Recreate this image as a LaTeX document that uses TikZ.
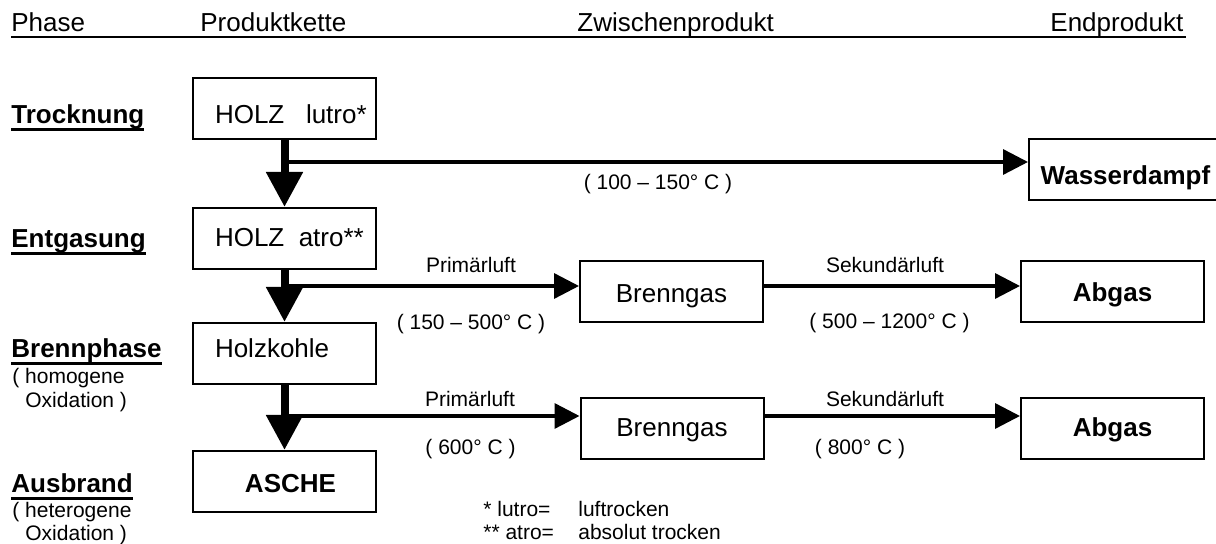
\documentclass[tikz,border=0pt]{standalone}
\usepackage{fontspec}
\setmainfont{Liberation Sans}
\usetikzlibrary{arrows.meta}

\newsavebox\phasebox
\newcommand{\phasename}[1]{\sbox\phasebox{\bfseries #1}\rlap{\rule[-3.3pt]{\wd\phasebox}{1.1pt}}\usebox\phasebox}

\begin{document}
\begin{tikzpicture}[x=0.5pt,y=-0.5pt,
  bigtext/.style={font=\fontsize{13}{15}\selectfont},
  smalltext/.style={font=\fontsize{10.5}{11.5}\selectfont},
  txt/.style={inner sep=0pt,anchor=base west},
  lbl/.style={inner sep=0pt,anchor=base,smalltext},
  stage/.style={draw,line width=1pt,minimum width=91.5pt,minimum height=30.5pt,inner sep=0pt,text height=9.5pt,text depth=1pt,bigtext},
  chain/.style={line width=4pt,-{Triangle[length=17.5pt,width=17.5pt]}},
  flow/.style={line width=1.7pt,-{Triangle[length=12.5pt,width=12.5pt]}}]

\useasboundingbox[fill=white] (0,0) rectangle (1216,544);

% Kopfzeile
\node[txt,bigtext] (hPhase) at (11,32) {Phase};
\node[txt,bigtext] (hKette) at (200,32) {Produktkette};
\node[txt,bigtext] (hZwischen) at (577,32) {Zwischenprodukt};
\node[txt,bigtext] (hEnd) at (1050,32) {Endprodukt};
\draw[line width=1pt] (11,36.7) -- (1186,36.7);

% Phasen
\node[txt,bigtext] (pTrock) at (11,124) {\phasename{Trocknung}};
\node[txt,bigtext] (pEntgas) at (11,248) {\phasename{Entgasung}};
\node[txt,bigtext] (pBrenn) at (11,358) {\phasename{Brennphase}};
\node[txt,smalltext] (pBrennA) at (12,384) {( homogene};
\node[txt,smalltext] (pBrennB) at (25,408) {Oxidation )};
\node[txt,bigtext] (pAus) at (11,493) {\phasename{Ausbrand}};
\node[txt,smalltext] (pAusA) at (12,518) {( heterogene};
\node[txt,smalltext] (pAusB) at (25,541) {Oxidation )};

% Produktkette
\node[stage] (lutro) at (284.5,109) {\raisebox{-3pt}{\makebox[69.5pt][l]{HOLZ\ \ \ lutro*}}};
\node[stage] (atro) at (284.5,238.5) {\makebox[69.5pt][l]{HOLZ\ \ atro**}};
\node[stage] (kohle) at (284.5,353.5) {\raisebox{2pt}{\makebox[69.5pt][l]{Holzkohle}}};
\node[stage] (asche) at (284.5,481.5) {\raisebox{-1.5pt}{\hspace*{6pt}\textbf{ASCHE}}};

\draw[chain] (lutro.south) -- (atro.north);
\draw[chain] (atro.south) -- (kohle.north);
\draw[chain] (kohle.south) -- (asche.north);

% Zwischen- und Endprodukte
\node[stage,minimum width=96.5pt] (dampf) at (1125.5,169.5) {\raisebox{-3.5pt}{\textbf{Wasserdampf}}};
\node[stage] (gasA) at (671.5,291.5) {\raisebox{-1.5pt}{Brenngas}};
\node[stage] (abgasA) at (1112.5,291.5) {\raisebox{-1pt}{\textbf{Abgas}}};
\node[stage] (gasB) at (672,428.5) {Brenngas};
\node[stage] (abgasB) at (1112.5,428.5) {\textbf{Abgas}};

% Trocknung
\coordinate (splitA) at (284.5,162);
\draw[flow] (splitA) -- (splitA -| dampf.west);
\node[lbl] (tA) at (658,190) {( 100 – 150° C )};

% Entgasung
\coordinate (splitB) at (284.5,286);
\draw[flow] (splitB) -- (splitB -| gasA.west);
\draw[flow] (splitB -| gasA.east) -- (splitB -| abgasA.west);
\node[lbl] (luftA) at (471,273) {Primärluft};
\node[lbl] (tB) at (471,330) {( 150 – 500° C )};
\node[lbl] (sekA) at (885,273) {Sekundärluft};
\node[lbl] (tC) at (889.5,329) {( 500 – 1200° C )};

% Brennphase
\coordinate (splitC) at (284.5,416);
\draw[flow] (splitC) -- (splitC -| gasB.west);
\draw[flow] (splitC -| gasB.east) -- (splitC -| abgasB.west);
\node[lbl] (luftB) at (470,407) {Primärluft};
\node[lbl] (tD) at (470.5,455) {( 600° C )};
\node[lbl] (sekB) at (885,407) {Sekundärluft};
\node[lbl] (tE) at (860,455) {( 800° C )};

% Fussnote
\node[txt,smalltext] (note) at (483,517) {\begin{tabular}[t]{@{}p{47.5pt}@{}l@{}}* lutro= & luftrocken\\ \relax** atro= & absolut trocken\end{tabular}};

\end{tikzpicture}
\end{document}
